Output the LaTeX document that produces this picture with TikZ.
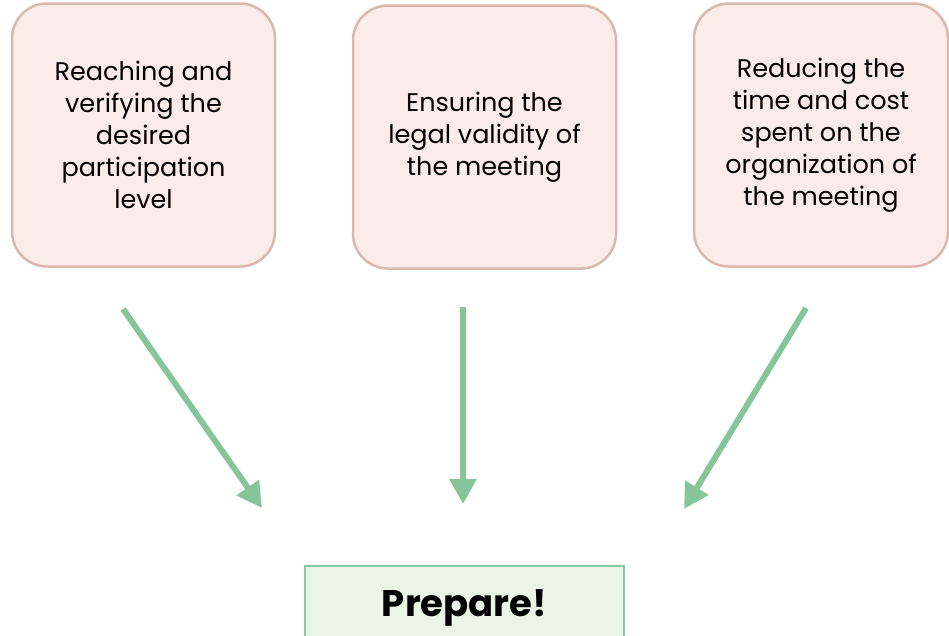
\documentclass[tikz,border=0pt]{standalone}
\usepackage{fontspec}
\usepackage{xcolor}
\usetikzlibrary{arrows.meta}
\setmainfont{Poppins}
\definecolor{boxfill}{HTML}{FBECEA}
\definecolor{boxline}{HTML}{DAB8AE}
\definecolor{arrowgreen}{HTML}{86C59A}
\definecolor{prepfill}{HTML}{EAF5E8}
\definecolor{prepline}{HTML}{8CC89B}
\tikzset{
	goalbox/.style={draw=boxline, fill=boxfill, line width=2.5pt, rounded corners=35pt,
		minimum height=263pt, align=center, font=\fontsize{25.5}{32}\selectfont},
	pointer/.style={draw=arrowgreen, line width=6pt, -{Triangle[length=25pt,width=26pt]}}
}
\begin{document}
\begin{tikzpicture}[x=1pt, y=-1pt]
				\useasboundingbox (0,0) rectangle (949,635);
				\node[goalbox, minimum width=263pt] (reach) at (143.5,135) {Reaching and\\verifying the\\desired\\participation\\level};
				\node[goalbox, minimum width=263pt] (legal) at (484.5,137) {Ensuring the\\legal validity of\\the meeting};
				\node[goalbox, minimum width=254pt] (cost) at (821,135) {Reducing the\\time and cost\\spent on the\\organization of\\the meeting};
				\node[draw=prepline, fill=prepfill, line width=2pt, minimum width=319pt, minimum height=100pt,
					anchor=north] (prep) at (464.5,565) {};
				\node[font=\fontsize{37}{42}\selectfont\bfseries, anchor=base] (preptext) at (464.5,616) {Prepare!};
				\coordinate (s1) at (123,309);
				\coordinate (e1) at (262,508);
				\coordinate (s2) at (463,307);
				\coordinate (e2) at (463,504);
				\coordinate (s3) at (806,308);
				\coordinate (e3) at (684,509);
				\draw[pointer] (s1) -- (e1);
				\draw[pointer] (s2) -- (e2);
				\draw[pointer] (s3) -- (e3);
			\end{tikzpicture}
\end{document}
